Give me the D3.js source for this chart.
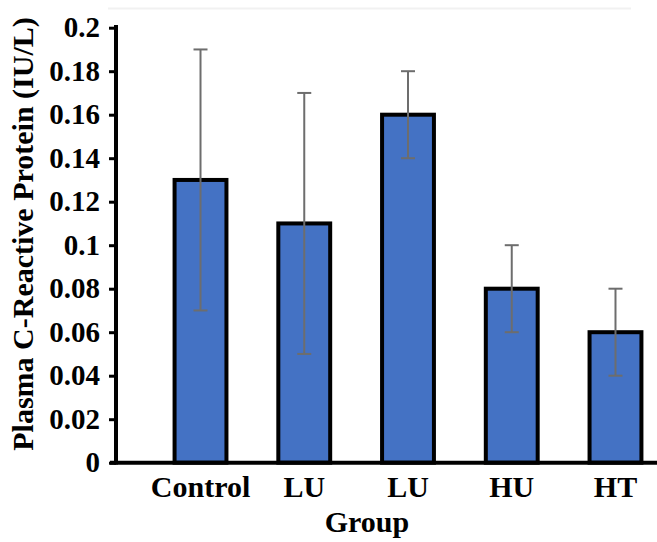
<!DOCTYPE html>
<html>
<head>
<meta charset="utf-8">
<script src="https://cdn.jsdelivr.net/npm/d3@7"></script>
<style>
html,body{margin:0;padding:0;background:#fff;}
svg{display:block;}
</style>
</head>
<body>
<svg id="chart" width="657" height="542"></svg>
<script>
const categories = ["Control", "LU", "LU", "HU", "HT"];
const means = [0.13, 0.11, 0.16, 0.08, 0.06];
const errLow = [0.07, 0.05, 0.14, 0.06, 0.04];
const errHigh = [0.19, 0.17, 0.18, 0.10, 0.08];
const yTicks = [0, 0.02, 0.04, 0.06, 0.08, 0.1, 0.12, 0.14, 0.16, 0.18, 0.2];
const yTitle = "Plasma C-Reactive Protein (IU/L)";
const xTitle = "Group";
const FONT = "'Liberation Serif','Times New Roman',serif";

const svg = d3.select("#chart");
const idx = categories.map((d, i) => i);

const y = d3.scaleLinear().domain([0, 0.2]).range([462.7, 27.7]);
const x = d3.scaleBand().domain(idx).range([122.7, 693.3]).paddingInner(0.5).paddingOuter(0.5);

// faint top border line
svg.append("line").attr("x1", 108).attr("x2", 631).attr("y1", 8.5).attr("y2", 8.5)
  .attr("stroke", "#f1f1f1").attr("stroke-width", 2);

// bars
svg.append("g").selectAll("rect").data(idx).join("rect")
  .attr("x", i => x(i))
  .attr("width", x.bandwidth())
  .attr("y", i => y(means[i]))
  .attr("height", i => y(0) - y(means[i]))
  .attr("fill", "#4472C4")
  .attr("stroke", "#000")
  .attr("stroke-width", 4);

// error bars
const eg = svg.append("g").attr("stroke", "#6d6d6d").attr("stroke-width", 2).attr("fill", "none");
idx.forEach(i => {
  const cx = x(i) + x.bandwidth() / 2;
  eg.append("line").attr("x1", cx).attr("x2", cx).attr("y1", y(errLow[i])).attr("y2", y(errHigh[i]));
  eg.append("line").attr("x1", cx - 7).attr("x2", cx + 7).attr("y1", y(errHigh[i])).attr("y2", y(errHigh[i]));
  eg.append("line").attr("x1", cx - 7).attr("x2", cx + 7).attr("y1", y(errLow[i])).attr("y2", y(errLow[i]));
});

// y axis
const yAxis = d3.axisLeft(y).tickValues(yTicks).tickFormat(d => d3.format("")(+d.toFixed(2))).tickSize(7).tickPadding(9);
const gy = svg.append("g").attr("transform", "translate(116,0)").call(yAxis);
gy.select(".domain").remove();
gy.selectAll(".tick line").attr("stroke", "#000").attr("stroke-width", 3);
gy.selectAll(".tick text").style("font-family", FONT).style("font-weight", "bold").style("font-size", "29px").attr("fill", "#000");
svg.append("line").attr("x1", 116).attr("x2", 116).attr("y1", 25).attr("y2", 464.5)
  .attr("stroke", "#000").attr("stroke-width", 4);

// x axis
const xAxis = d3.axisBottom(x).tickFormat(i => categories[i]).tickSize(0).tickPadding(13);
const gx = svg.append("g").attr("transform", `translate(0,${y(0)})`).call(xAxis);
gx.select(".domain").remove();
gx.selectAll(".tick text").style("font-family", FONT).style("font-weight", "bold").style("font-size", "30px").attr("fill", "#000");
svg.append("line").attr("x1", 110).attr("x2", 657).attr("y1", y(0)).attr("y2", y(0))
  .attr("stroke", "#000").attr("stroke-width", 4);

// titles
svg.append("text").attr("x", 367).attr("y", 532).attr("text-anchor", "middle")
  .style("font-family", FONT).style("font-weight", "bold").style("font-size", "30px").text(xTitle);
svg.append("text").attr("transform", "translate(33,234) rotate(-90)").attr("text-anchor", "middle")
  .style("font-family", FONT).style("font-weight", "bold").style("font-size", "30px").text(yTitle);
</script>
</body>
</html>
